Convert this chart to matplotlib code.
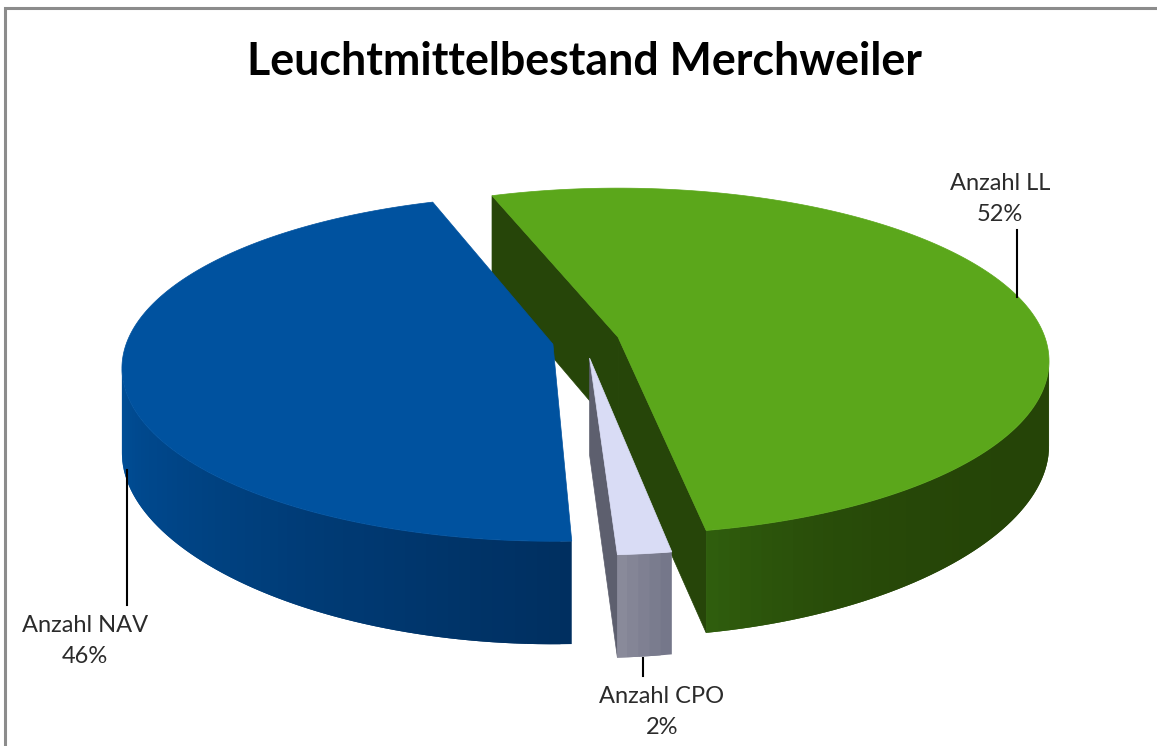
import numpy as np
import matplotlib
matplotlib.use("Agg")
import matplotlib.pyplot as plt
from matplotlib.colors import to_rgb
from matplotlib.patches import Polygon

TITLE = "Leuchtmittelbestand Merchweiler"
LABELS = ["Anzahl LL", "Anzahl CPO", "Anzahl NAV"]
SHARES = [52, 2, 46]

TOP_COLORS = ["#5ba71b", "#d9dcf5", "#00529f"]
FACE_COLORS = ["#264509", "#5d5f6e", "#003060"]
# wall colour at the front-right and at the front-left end of each slice
WALL_COLORS = [["#254407", "#305f0e"], ["#75778a", "#8d8e9e"], ["#002f60", "#004f99"]]
# the 3d projection bends the angles a bit, degrees per slice edge
ANGLE_TRIMS = [(0.5, -1.5), (-0.7, -0.6), (0.6, 1.3)]
SHADE_POWER = [4, 1, 1]

START_ANGLE = -17.5
CENTER = (585.7, 341.2)
EXPLODE_X, EXPLODE_Y = 33.3, 17.0
RX, RY, RIM_DROP = 431, 173, 24
STEP = 1.5

fig = plt.figure(figsize=(11.57, 7.46), dpi=100)
ax = fig.add_axes([0, 0, 1, 1])
ax.set_xlim(0, 1157)
ax.set_ylim(746, 0)
ax.axis("off")
plt.rcParams["font.family"] = ["Lato", "DejaVu Sans"]


def rim(apex, t):
    t = np.radians(t)
    return apex[0] + RX * np.sin(t), apex[1] + RIM_DROP - RY * np.cos(t)


def depth(t):
    c = np.cos(np.radians(t))
    return 85 + 12 * c ** 2 - 6 * c


def draw_slice(idx, a0, a1):
    mid = np.radians((a0 + a1) / 2)
    apex = (CENTER[0] + EXPLODE_X * np.sin(mid), CENTER[1] - EXPLODE_Y * np.cos(mid))
    apex_low = (apex[0], apex[1] + 97)
    a0 += ANGLE_TRIMS[idx][0]
    a1 += ANGLE_TRIMS[idx][1]

    # flat cut faces, only the ones turned towards the viewer
    face_angles = {0: (a0, a1), 1: (a1,), 2: ()}[idx]
    for t in face_angles:
        x, y = rim(apex, t)
        ax.add_patch(Polygon([apex, (x, y), (x, y + depth(t)), apex_low],
                             fc=FACE_COLORS[idx], ec=FACE_COLORS[idx], lw=0.5))

    # outer wall, front half only, strips overlap so no seams show
    lo, hi = max(a0, 90), min(a1, 270)
    c_right, c_left = [np.array(to_rgb(c)) for c in WALL_COLORS[idx]]
    for s0 in np.arange(lo, hi, STEP):
        s1 = min(s0 + 2 * STEP, hi)
        ts = np.linspace(s0, s1, 3)
        xs, ys = rim(apex, ts)
        w = (s0 - lo) / (hi - lo)
        col = c_right + (c_left - c_right) * w ** SHADE_POWER[idx]
        pts = list(zip(xs, ys)) + list(zip(xs[::-1], (ys + depth(ts))[::-1]))
        ax.add_patch(Polygon(pts, fc=col, ec="none", lw=0))

    # top surface
    ts = np.linspace(a0, a1, 200)
    xs, ys = rim(apex, ts)
    pts = [apex] + list(zip(xs, ys))
    ax.add_patch(Polygon(pts, fc=TOP_COLORS[idx], ec=TOP_COLORS[idx], lw=0.5))


angles = START_ANGLE + np.concatenate([[0], np.cumsum(SHARES)]) * 3.6
draw_slice(0, angles[0], angles[1])
draw_slice(1, angles[1], angles[2])
draw_slice(2, angles[2], angles[3])

# chart frame, cut off on the right and at the bottom
ax.plot([5, 5, 1157], [746, 8, 8], color="#8c8c8c", lw=2.2, solid_joinstyle="miter")

ax.text(584, 62, TITLE, ha="center", va="center", fontsize=32.2, fontweight="bold", color="black")

# leader lines
ax.plot([1017, 1017], [230, 297], color="black", lw=1.5)
ax.plot([127, 127], [470, 605], color="black", lw=1.5)
ax.plot([643, 643], [658, 676], color="black", lw=1.5)

ax.text(1000, 199, f"{LABELS[0]}\n{SHARES[0]}%", ha="center", va="center", fontsize=17, color="#2b2b2b", linespacing=1.55)
ax.text(662, 712, f"{LABELS[1]}\n{SHARES[1]}%", ha="center", va="center", fontsize=17, color="#2b2b2b", linespacing=1.55)
ax.text(85, 641, f"{LABELS[2]}\n{SHARES[2]}%", ha="center", va="center", fontsize=17, color="#2b2b2b", linespacing=1.55)

fig.savefig("out.png", dpi=100)
